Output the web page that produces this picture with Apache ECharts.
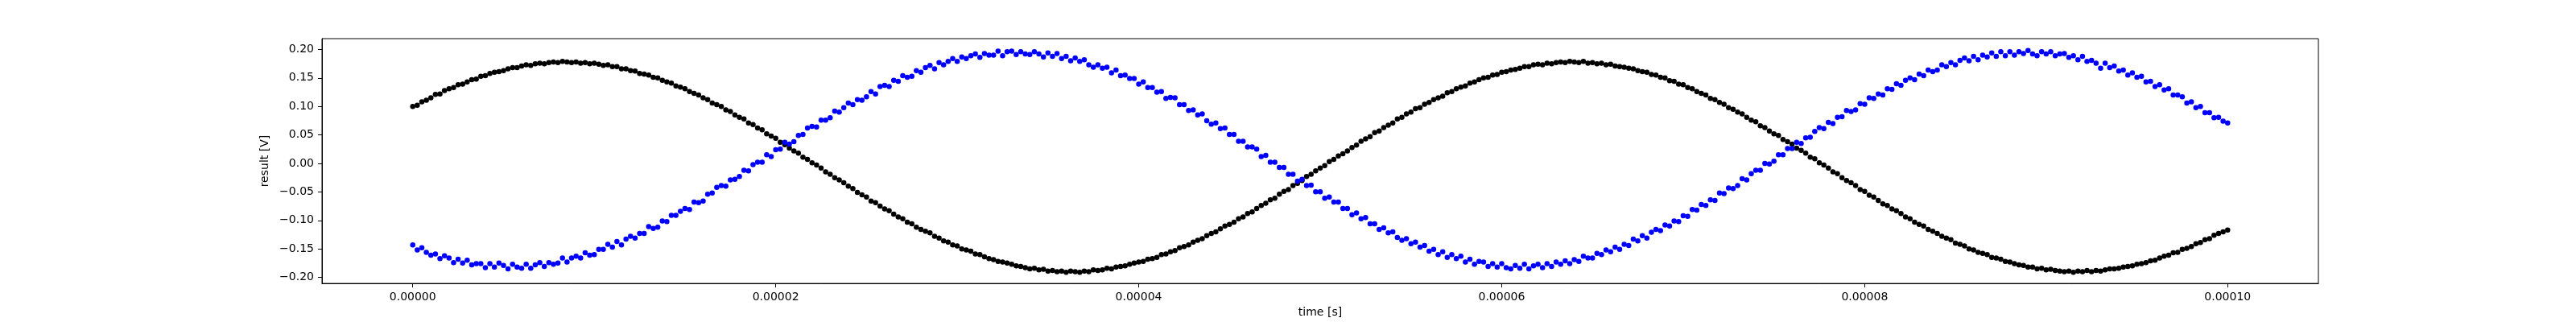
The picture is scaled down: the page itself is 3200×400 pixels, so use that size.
<!DOCTYPE html>
<html>
<head>
<meta charset="utf-8">
<title>result vs time</title>
<script src="https://cdn.jsdelivr.net/npm/echarts@6/dist/echarts.min.js"></script>
<style>
  html, body { margin: 0; padding: 0; background: #fff; }
  #chart { width: 3200px; height: 400px; }
</style>
</head>
<body>
<div id="chart"></div>
<script>
// scope trace, one sample every 0.25 us
const sampleStep = 0.25e-6

// black channel [V]
const channelBlack = [
  0.100, 0.102, 0.108, 0.111, 0.115, 0.121, 0.122, 0.128, 0.131, 0.133, 0.138, 0.139,
  0.143, 0.147, 0.148, 0.153, 0.154, 0.158, 0.160, 0.161, 0.163, 0.166, 0.168, 0.168,
  0.171, 0.173, 0.172, 0.175, 0.176, 0.175, 0.177, 0.178, 0.177, 0.179, 0.178, 0.177,
  0.178, 0.176, 0.177, 0.175, 0.176, 0.174, 0.172, 0.173, 0.170, 0.170, 0.166, 0.166,
  0.163, 0.162, 0.158, 0.157, 0.155, 0.151, 0.150, 0.146, 0.143, 0.141, 0.136, 0.134,
  0.131, 0.126, 0.123, 0.120, 0.115, 0.112, 0.106, 0.103, 0.100, 0.094, 0.091, 0.085,
  0.081, 0.078, 0.071, 0.068, 0.062, 0.059, 0.052, 0.048, 0.044, 0.037, 0.033, 0.027,
  0.022, 0.018, 0.011, 0.007, 0.001, -0.003, -0.008, -0.015, -0.019, -0.025, -0.029, -0.034,
  -0.040, -0.044, -0.051, -0.055, -0.059, -0.066, -0.069, -0.075, -0.080, -0.083, -0.089, -0.094,
  -0.097, -0.103, -0.106, -0.112, -0.116, -0.119, -0.122, -0.128, -0.131, -0.136, -0.138, -0.143,
  -0.145, -0.150, -0.152, -0.154, -0.159, -0.160, -0.164, -0.167, -0.169, -0.172, -0.173, -0.175,
  -0.177, -0.180, -0.181, -0.183, -0.185, -0.184, -0.187, -0.186, -0.189, -0.188, -0.190, -0.189,
  -0.191, -0.189, -0.190, -0.191, -0.189, -0.190, -0.187, -0.188, -0.187, -0.184, -0.185, -0.182,
  -0.181, -0.180, -0.177, -0.175, -0.173, -0.172, -0.168, -0.167, -0.165, -0.160, -0.159, -0.155,
  -0.153, -0.148, -0.146, -0.143, -0.138, -0.135, -0.132, -0.127, -0.123, -0.120, -0.115, -0.110,
  -0.107, -0.103, -0.097, -0.094, -0.088, -0.085, -0.079, -0.074, -0.070, -0.064, -0.061, -0.054,
  -0.049, -0.046, -0.039, -0.035, -0.030, -0.023, -0.019, -0.013, -0.008, -0.004, 0.003, 0.007,
  0.013, 0.017, 0.022, 0.028, 0.032, 0.039, 0.043, 0.047, 0.054, 0.057, 0.063, 0.067,
  0.071, 0.078, 0.081, 0.087, 0.090, 0.096, 0.098, 0.104, 0.107, 0.112, 0.115, 0.118,
  0.124, 0.126, 0.131, 0.134, 0.136, 0.141, 0.143, 0.147, 0.150, 0.151, 0.155, 0.156,
  0.160, 0.161, 0.164, 0.165, 0.167, 0.170, 0.170, 0.173, 0.174, 0.173, 0.176, 0.175,
  0.177, 0.178, 0.177, 0.179, 0.178, 0.177, 0.179, 0.176, 0.177, 0.175, 0.176, 0.173,
  0.174, 0.171, 0.170, 0.169, 0.167, 0.166, 0.163, 0.161, 0.160, 0.156, 0.155, 0.151,
  0.150, 0.145, 0.144, 0.139, 0.138, 0.133, 0.131, 0.126, 0.123, 0.120, 0.114, 0.112,
  0.107, 0.104, 0.098, 0.095, 0.090, 0.087, 0.081, 0.076, 0.073, 0.066, 0.063, 0.057,
  0.052, 0.049, 0.042, 0.038, 0.034, 0.027, 0.023, 0.018, 0.011, 0.008, 0.001, -0.003,
  -0.008, -0.015, -0.018, -0.025, -0.030, -0.034, -0.039, -0.046, -0.049, -0.056, -0.059, -0.065,
  -0.071, -0.074, -0.080, -0.083, -0.088, -0.094, -0.097, -0.103, -0.107, -0.110, -0.116, -0.119,
  -0.123, -0.128, -0.131, -0.134, -0.140, -0.142, -0.145, -0.150, -0.152, -0.156, -0.158, -0.160,
  -0.165, -0.166, -0.168, -0.172, -0.173, -0.176, -0.178, -0.179, -0.182, -0.182, -0.185, -0.184,
  -0.187, -0.186, -0.188, -0.189, -0.190, -0.189, -0.191, -0.189, -0.190, -0.188, -0.190, -0.188,
  -0.189, -0.187, -0.185, -0.185, -0.184, -0.182, -0.181, -0.180, -0.177, -0.176, -0.174, -0.171,
  -0.170, -0.166, -0.163, -0.161, -0.157, -0.156, -0.151, -0.149, -0.146, -0.141, -0.139, -0.134,
  -0.132, -0.126, -0.123, -0.120, -0.117
]

// blue channel [V]
const channelBlue = [
  -0.143, -0.152, -0.148, -0.156, -0.161, -0.159, -0.167, -0.162, -0.166, -0.174, -0.168, -0.175,
  -0.170, -0.178, -0.176, -0.176, -0.183, -0.176, -0.182, -0.175, -0.179, -0.185, -0.177, -0.182,
  -0.184, -0.177, -0.184, -0.178, -0.174, -0.181, -0.174, -0.177, -0.175, -0.166, -0.173, -0.166,
  -0.163, -0.166, -0.157, -0.161, -0.160, -0.151, -0.151, -0.142, -0.147, -0.137, -0.143, -0.133,
  -0.128, -0.131, -0.123, -0.123, -0.111, -0.114, -0.112, -0.101, -0.102, -0.091, -0.091, -0.084,
  -0.079, -0.081, -0.068, -0.069, -0.066, -0.054, -0.052, -0.042, -0.039, -0.040, -0.029, -0.028,
  -0.023, -0.012, -0.013, -0.002, 0.002, 0.002, 0.015, 0.012, 0.024, 0.025, 0.037, 0.034,
  0.038, 0.049, 0.051, 0.062, 0.065, 0.064, 0.076, 0.076, 0.080, 0.092, 0.090, 0.098,
  0.106, 0.103, 0.112, 0.111, 0.117, 0.126, 0.122, 0.135, 0.137, 0.135, 0.146, 0.144,
  0.154, 0.151, 0.153, 0.163, 0.160, 0.168, 0.172, 0.166, 0.177, 0.173, 0.179, 0.184,
  0.179, 0.187, 0.184, 0.189, 0.192, 0.186, 0.193, 0.190, 0.190, 0.197, 0.189, 0.196,
  0.197, 0.191, 0.196, 0.192, 0.191, 0.196, 0.192, 0.187, 0.194, 0.188, 0.193, 0.184,
  0.188, 0.180, 0.185, 0.179, 0.182, 0.173, 0.169, 0.173, 0.167, 0.169, 0.159, 0.164,
  0.154, 0.155, 0.149, 0.149, 0.139, 0.143, 0.133, 0.133, 0.125, 0.126, 0.114, 0.116,
  0.115, 0.103, 0.103, 0.093, 0.094, 0.085, 0.087, 0.075, 0.069, 0.071, 0.061, 0.062,
  0.051, 0.051, 0.039, 0.039, 0.029, 0.029, 0.025, 0.012, 0.014, 0.002, 0.002, -0.007,
  -0.007, -0.019, -0.019, -0.031, -0.028, -0.039, -0.038, -0.050, -0.050, -0.061, -0.059, -0.068,
  -0.068, -0.079, -0.079, -0.090, -0.087, -0.097, -0.095, -0.106, -0.106, -0.116, -0.113, -0.122,
  -0.120, -0.130, -0.135, -0.132, -0.141, -0.138, -0.147, -0.144, -0.154, -0.151, -0.160, -0.155,
  -0.165, -0.160, -0.167, -0.163, -0.173, -0.168, -0.177, -0.172, -0.173, -0.181, -0.176, -0.182,
  -0.176, -0.183, -0.185, -0.179, -0.184, -0.177, -0.185, -0.180, -0.177, -0.183, -0.176, -0.181,
  -0.173, -0.177, -0.171, -0.176, -0.169, -0.172, -0.163, -0.166, -0.166, -0.158, -0.160, -0.152,
  -0.155, -0.147, -0.151, -0.142, -0.144, -0.133, -0.136, -0.127, -0.131, -0.121, -0.116, -0.118,
  -0.108, -0.110, -0.101, -0.102, -0.092, -0.093, -0.081, -0.082, -0.072, -0.074, -0.064, -0.065,
  -0.052, -0.053, -0.043, -0.044, -0.039, -0.027, -0.029, -0.018, -0.012, -0.012, 0.000, -0.001,
  0.004, 0.015, 0.015, 0.026, 0.026, 0.037, 0.035, 0.045, 0.046, 0.056, 0.063, 0.061,
  0.072, 0.070, 0.081, 0.082, 0.093, 0.091, 0.094, 0.105, 0.104, 0.115, 0.114, 0.122,
  0.120, 0.131, 0.130, 0.140, 0.137, 0.146, 0.150, 0.147, 0.157, 0.154, 0.164, 0.161,
  0.164, 0.173, 0.170, 0.177, 0.173, 0.181, 0.185, 0.180, 0.188, 0.182, 0.190, 0.187,
  0.194, 0.188, 0.196, 0.189, 0.196, 0.190, 0.196, 0.193, 0.198, 0.192, 0.189, 0.196,
  0.192, 0.196, 0.189, 0.192, 0.193, 0.186, 0.189, 0.182, 0.188, 0.179, 0.181, 0.176,
  0.167, 0.176, 0.168, 0.171, 0.162, 0.164, 0.155, 0.159, 0.151, 0.153, 0.143, 0.144,
  0.135, 0.138, 0.129, 0.131, 0.120, 0.120, 0.117, 0.106, 0.108, 0.098, 0.100, 0.089,
  0.089, 0.080, 0.081, 0.074, 0.071
]

const xTicks = [0, 0.00002, 0.00004, 0.00006, 0.00008, 0.0001]
const yTicks = [-0.2, -0.15, -0.1, -0.05, 0, 0.05, 0.1, 0.15, 0.2]

const font = 'DejaVu Sans'

function toPoints(values) {
  return values.map((v, i) => [i * sampleStep, v])
}

function yLabel(v) {
  return v.toFixed(2).replace('-', '\u2212')
}

let chart = echarts.init(document.getElementById('chart'))

let option = {
  animation: false,
  backgroundColor: '#ffffff',
  grid: {
    left: 400,
    right: 320,
    top: 48,
    bottom: 44,
    show: true,
    borderColor: '#000000',
    borderWidth: 1
  },
  xAxis: {
    type: 'value',
    min: -0.000005,
    max: 0.000105,
    name: 'time [s]',
    nameLocation: 'middle',
    nameGap: 25,
    nameTextStyle: {fontFamily: font, fontSize: 14, color: '#000'},
    axisLine: {show: true, onZero: false, lineStyle: {color: '#000', width: 1}},
    axisTick: {show: true, length: 5, lineStyle: {color: '#000'}, customValues: xTicks},
    axisLabel: {
      fontFamily: font, fontSize: 14, color: '#000', margin: 10,
      customValues: xTicks,
      formatter: v => v.toFixed(5)
    },
    splitLine: {show: false}
  },
  yAxis: {
    type: 'value',
    min: -0.2107,
    max: 0.219,
    name: 'result [V]',
    nameLocation: 'middle',
    nameRotate: 90,
    nameGap: 60,
    nameTextStyle: {fontFamily: font, fontSize: 14, color: '#000'},
    axisLine: {show: true, onZero: false, lineStyle: {color: '#000', width: 1}},
    axisTick: {show: true, length: 5, lineStyle: {color: '#000'}, customValues: yTicks},
    axisLabel: {
      fontFamily: font, fontSize: 14, color: '#000', margin: 10,
      customValues: yTicks,
      formatter: yLabel
    },
    splitLine: {show: false}
  },
  series: [
    {
      type: 'scatter',
      data: toPoints(channelBlack),
      symbol: 'circle',
      symbolSize: 6.5,
      itemStyle: {color: '#000000', opacity: 1}
    },
    {
      type: 'scatter',
      data: toPoints(channelBlue),
      symbol: 'circle',
      symbolSize: 6.5,
      itemStyle: {color: '#0000ff', opacity: 1}
    }
  ]
}

chart.setOption(option)

window.addEventListener('resize', function () {
  chart.resize()
})
</script>
</body>
</html>
